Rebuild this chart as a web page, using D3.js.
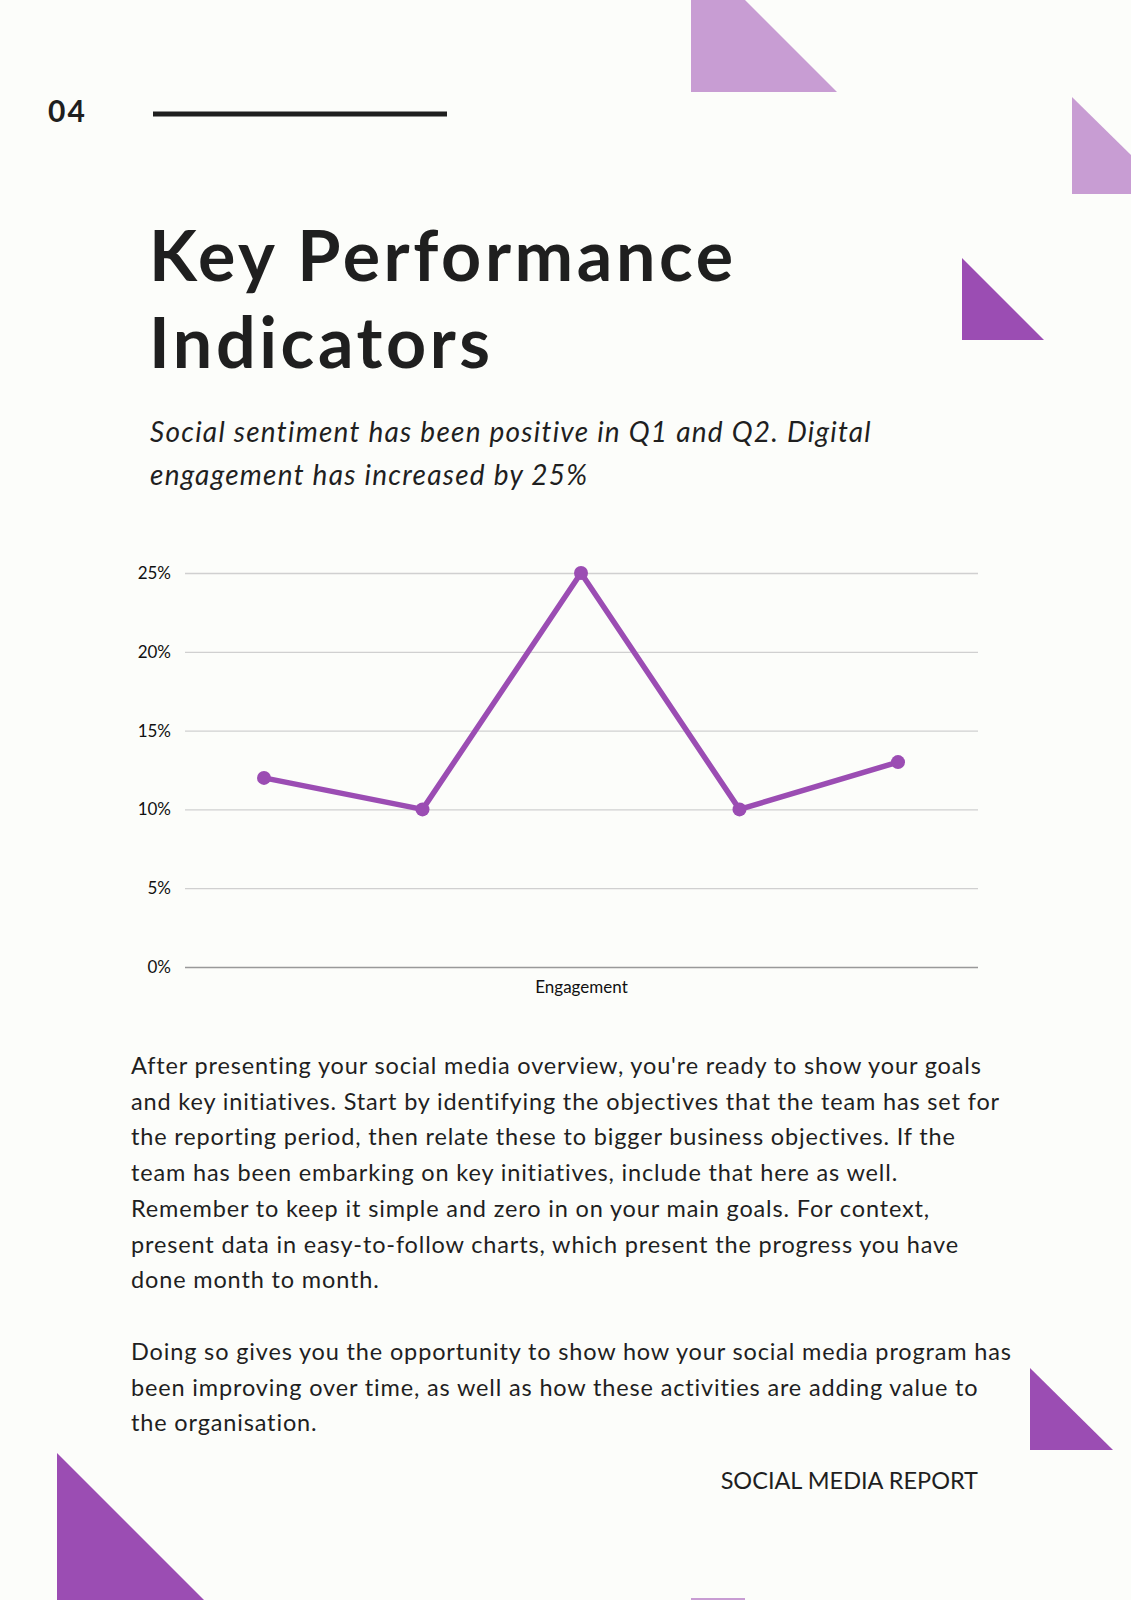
<!DOCTYPE html>
<html><head><meta charset="utf-8">
<script src="https://cdn.jsdelivr.net/npm/d3@7"></script>
<style>body{margin:0;background:#fcfdfa;}svg{display:block;}</style>
</head><body>
<script>
'use strict';
// chart data
const categories = ["1", "2", "3", "4", "5"];
const values = [12, 10, 25, 10, 13];
const yTicks = [0, 5, 10, 15, 20, 25];
const xLabel = "Engagement";
const bodyLines1 = [
  "After presenting your social media overview, you're ready to show your goals",
  "and key initiatives. Start by identifying the objectives that the team has set for",
  "the reporting period, then relate these to bigger business objectives. If the",
  "team has been embarking on key initiatives, include that here as well.",
  "Remember to keep it simple and zero in on your main goals. For context,",
  "present data in easy-to-follow charts, which present the progress you have",
  "done month to month."
];
const bodyLines2 = [
  "Doing so gives you the opportunity to show how your social media program has",
  "been improving over time, as well as how these activities are adding value to",
  "the organisation."
];

const W = 1131, H = 1600;
const font = "Lato, 'Open Sans', sans-serif";
const svg = d3.select('body').append('svg').attr('width', W).attr('height', H);
svg.append('rect').attr('width', W).attr('height', H).attr('fill', '#fcfdfa');

// decorative shapes
const light = '#c89dd3', dark = '#9b4db3';
const shapes = [
  [light, [[691,0],[745,0],[837,92],[691,92]]],
  [light, [[1072,97],[1131,155],[1131,194],[1072,194]]],
  [dark, [[962,258],[1044,340],[962,340]]],
  [dark, [[1030,1368],[1113,1450],[1030,1450]]],
  [dark, [[57,1453],[204,1600],[57,1600]]],
  [light, [[691,1598],[745,1598],[745,1600],[691,1600]]]
];
shapes.forEach(s => svg.append('polygon').attr('points', s[1].map(p => p.join(',')).join(' ')).attr('fill', s[0]));

// header
svg.append('text').attr('x', 48).attr('y', 122).text('04')
  .attr('font-family', font).attr('font-weight', 700).attr('font-size', 30).attr('letter-spacing', 2).attr('fill', '#1f1f1f');
svg.append('line').attr('x1', 153).attr('x2', 447).attr('y1', 114).attr('y2', 114)
  .attr('stroke', '#1f1f1f').attr('stroke-width', 5);

svg.selectAll('.title').data(["Key Performance", "Indicators"]).enter().append('text')
  .attr('x', 149).attr('y', (d, i) => 281 + i * 87).text(d => d)
  .attr('font-family', font).attr('font-weight', 700).attr('font-size', 70).attr('letter-spacing', 3.6).attr('fill', '#1f1f1f');

svg.selectAll('.sub').data(["Social sentiment has been positive in Q1 and Q2. Digital", "engagement has increased by 25%"]).enter().append('text')
  .attr('x', 150).attr('y', (d, i) => 442 + i * 43).text(d => d)
  .attr('font-family', font).attr('font-style', 'italic').attr('font-size', 28).attr('letter-spacing', 1.25).attr('fill', '#1f1f1f');

// chart
const x = d3.scalePoint().domain(categories).range([264, 898]);
const y = d3.scaleLinear().domain([0, 25]).range([967, 573]);

const yAxis = d3.axisLeft(y).tickValues(yTicks).tickSize(-(978 - 185)).tickFormat(d => d + '%');
const gy = svg.append('g').attr('transform', 'translate(185,0)').call(yAxis);
gy.select('.domain').remove();
gy.selectAll('.tick line').attr('stroke', d => d === 0 ? '#999' : '#d0d0d0').attr('stroke-width', 1.3);
gy.selectAll('.tick text').attr('x', -14).attr('font-family', font).attr('font-size', 17).attr('fill', '#111');

svg.append('text').attr('x', (185 + 978) / 2).attr('y', 993).attr('text-anchor', 'middle').text(xLabel)
  .attr('font-family', font).attr('font-size', 17).attr('fill', '#111');

const line = d3.line().x((d, i) => x(categories[i])).y(d => y(d));
svg.append('path').datum(values).attr('d', line).attr('fill', 'none')
  .attr('stroke', '#9b4db3').attr('stroke-width', 5.5).attr('stroke-linejoin', 'round');
svg.selectAll('.dot').data(values).enter().append('circle')
  .attr('cx', (d, i) => x(categories[i])).attr('cy', d => y(d)).attr('r', 7).attr('fill', '#9b4db3');

// body text
function para(lines, y0) {
  svg.append('g').selectAll('text').data(lines).enter().append('text')
    .attr('x', 131).attr('y', (d, i) => y0 + i * 35.7).text(d => d)
    .attr('font-family', font).attr('font-size', 23.5).attr('letter-spacing', 0.85).attr('fill', '#1f1f1f');
}
para(bodyLines1, 1074);
para(bodyLines2, 1360);

svg.append('text').attr('x', 978).attr('y', 1489).attr('text-anchor', 'end').text('SOCIAL MEDIA REPORT')
  .attr('font-family', font).attr('font-size', 23.5).attr('fill', '#1f1f1f');
</script>
</body></html>
